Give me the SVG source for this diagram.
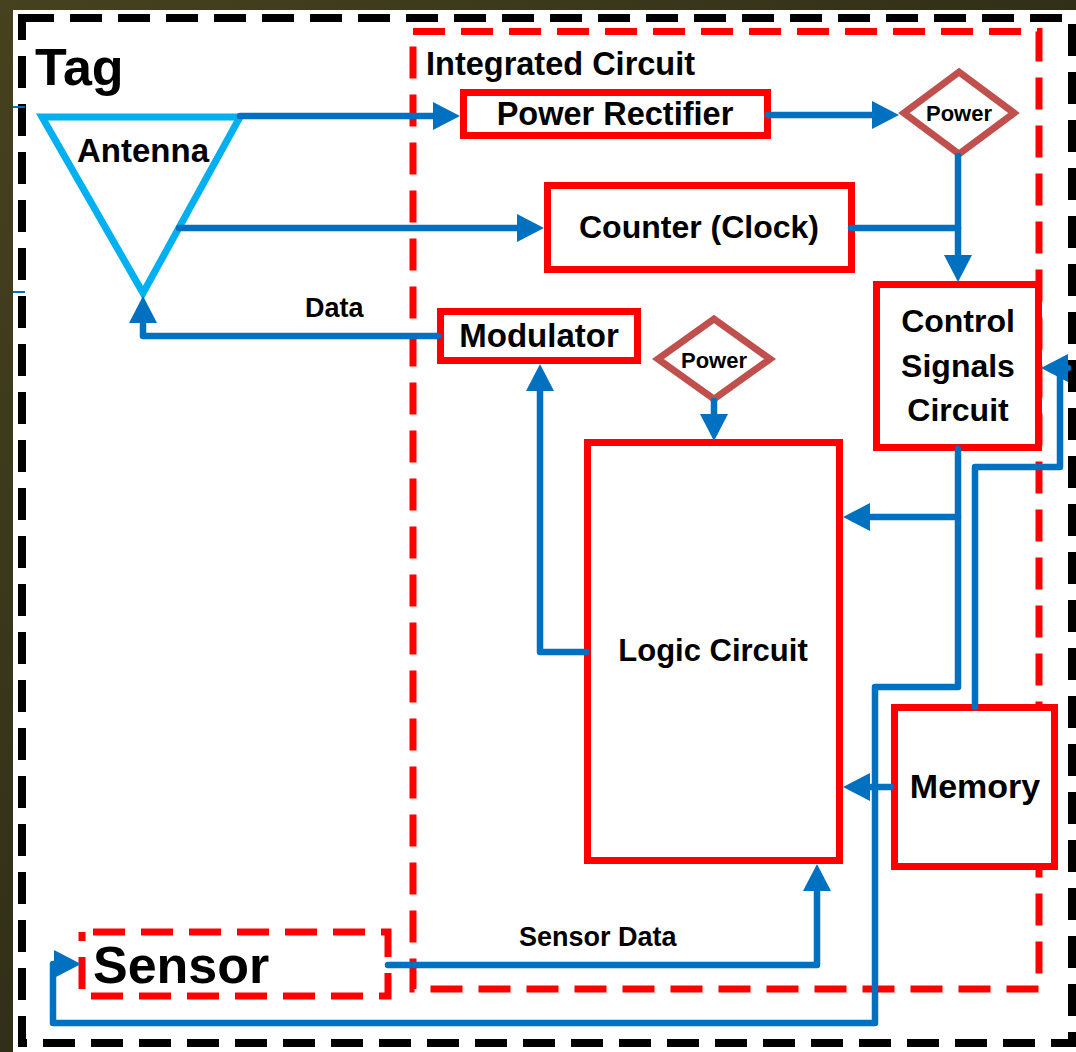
<svg xmlns="http://www.w3.org/2000/svg" width="1076" height="1052" viewBox="0 0 1076 1052">
  <defs>
    <linearGradient id="frame" x1="0" y1="0" x2="1" y2="1">
      <stop offset="0" stop-color="#46421f"/>
      <stop offset="1" stop-color="#1e1c12"/>
    </linearGradient>
    <marker id="ah" markerUnits="userSpaceOnUse" markerWidth="30" markerHeight="30" refX="1" refY="14" orient="auto">
      <path d="M0,0 L27,14 L0,28 Z" fill="#0070c0"/>
    </marker>
    <style>
      .box { fill: #ffffff; stroke: #ff0000; stroke-width: 7; }
      .dash-red { fill: none; stroke: #ff0000; stroke-width: 7; stroke-dasharray: 32 16; }
      .dash-black { fill: none; stroke: #000000; stroke-width: 8; stroke-dasharray: 32 16; }
      .pwr { fill: #ffffff; stroke: #c0504d; stroke-width: 7; }
      .ant { fill: none; stroke: #00b0f0; stroke-width: 7; stroke-linejoin: miter; }
      .wire { fill: none; stroke: #0070c0; stroke-width: 6.5; stroke-linejoin: round; stroke-linecap: round; }
      .arr { marker-end: url(#ah); }
      .tick { fill: none; stroke: #0070c0; stroke-width: 2; }
      .lbl { font-family: "Liberation Sans", Arial, sans-serif; font-weight: bold; fill: #000000; }
      .mid { text-anchor: middle; }
    </style>
  </defs>

  <!-- page frame and white canvas -->
  <rect x="0" y="0" width="1076" height="1052" fill="url(#frame)"/>
  <rect x="13" y="10" width="1063" height="1042" fill="#ffffff"/>

  <!-- outer tag boundary -->
  <g id="tag">
    <rect class="dash-black" x="22" y="18" width="1050" height="1025"/>
    <text class="lbl" x="35" y="85" font-size="52">Tag</text>
    <path class="tick" d="M13,107 L25,107 M13,292 L25,292"/>
  </g>

  <!-- integrated circuit boundary -->
  <g id="integrated-circuit">
    <rect class="dash-red" x="413" y="31.5" width="626" height="957.5"/>
    <text class="lbl" x="426" y="75" font-size="32.5">Integrated Circuit</text>
  </g>

  <g id="antenna">
    <polygon class="ant" points="42,117 240,117 143,293"/>
    <text class="lbl" x="77" y="162" font-size="33">Antenna</text>
  </g>

  <g id="power-rectifier">
    <rect class="box" x="463.5" y="92.5" width="304" height="43"/>
    <text class="lbl mid" x="615" y="125" font-size="32.5">Power Rectifier</text>
  </g>

  <g id="power-top">
    <polygon class="pwr" points="959,72 1014,113 959,154 904,113"/>
    <text class="lbl mid" x="959" y="121" font-size="22">Power</text>
  </g>

  <g id="counter">
    <rect class="box" x="547.5" y="185.5" width="304" height="84"/>
    <text class="lbl mid" x="699" y="238" font-size="32">Counter (Clock)</text>
  </g>

  <g id="modulator">
    <rect class="box" x="440.5" y="311.5" width="197" height="49"/>
    <text class="lbl mid" x="539" y="347" font-size="33">Modulator</text>
  </g>

  <g id="power-logic">
    <polygon class="pwr" points="714,319 770,359 714,399 658,359"/>
    <text class="lbl mid" x="714" y="368" font-size="22">Power</text>
  </g>

  <g id="control-signals">
    <rect class="box" x="876.5" y="284.5" width="162" height="163"/>
    <text class="lbl mid" x="958" y="332" font-size="32">Control</text>
    <text class="lbl mid" x="958" y="377" font-size="32">Signals</text>
    <text class="lbl mid" x="958" y="421" font-size="32">Circuit</text>
  </g>

  <g id="logic-circuit">
    <rect class="box" x="587.5" y="442.5" width="252" height="418"/>
    <text class="lbl mid" x="713" y="661" font-size="31">Logic Circuit</text>
  </g>

  <g id="memory">
    <rect class="box" x="894.5" y="707.5" width="160" height="159"/>
    <text class="lbl mid" x="975" y="798" font-size="34">Memory</text>
  </g>

  <g id="sensor">
    <rect class="dash-red" x="82" y="932" width="306" height="64" stroke-dashoffset="37"/>
    <text class="lbl" x="93" y="983" font-size="52">Sensor</text>
  </g>

  <!-- signal and power lines -->
  <g id="connectors">
    <path class="wire arr" d="M240,116 L434,116"/>
    <path class="wire arr" d="M768,115 L873,115"/>
    <path class="wire arr" d="M958,156 L958,256"/>
    <path class="wire arr" d="M179,228 L518,228"/>
    <path class="wire" d="M851,228 L958,228"/>
    <path class="wire arr" d="M438,336 L143,336 L143,322"/>
    <text class="lbl" x="305" y="317" font-size="27">Data</text>
    <path class="wire arr" d="M586,652 L540,652 L540,390"/>
    <path class="wire arr" d="M714,401 L714,415"/>
    <path class="wire arr" d="M958,449 L958,687 L875,687 L875,1023 L53,1023 L53,964 L55,964"/>
    <path class="wire arr" d="M958,517 L869,517"/>
    <path class="wire" d="M975,707 L975,467 L1060,467 L1060,368"/>
    <path class="wire arr" d="M1068,368 L1067,368"/>
    <path class="wire arr" d="M891,787 L869,787"/>
    <path class="wire arr" d="M388,965 L817,965 L817,890"/>
    <text class="lbl" x="519" y="946" font-size="27">Sensor Data</text>
  </g>
</svg>
